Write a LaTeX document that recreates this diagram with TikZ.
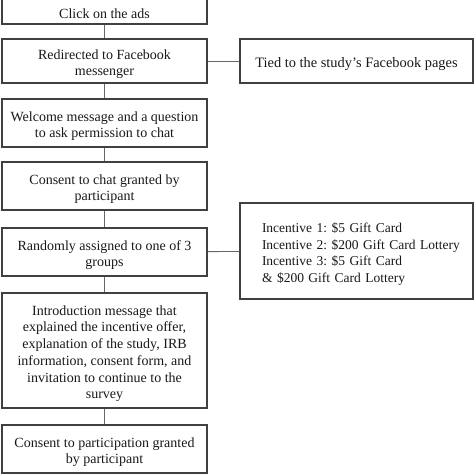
\documentclass[tikz,border=0pt]{standalone}
\usepackage{fontspec}
\setmainfont{Liberation Serif}
\newcommand\topstrut{\rule{0pt}{16pt}}
\begin{document}
\frenchspacing
\begin{tikzpicture}[x=1pt,y=-1pt,
  box/.style={draw=black!75, line width=1.4pt, fill=white, inner sep=0pt,
    font=\fontsize{14}{16.7}\selectfont, text=black!90},
  lbox/.style={box, minimum width=205pt, align=center},
  rbox/.style={box, minimum width=233pt},
  link/.style={draw=black!60, line width=0.9pt}]
\useasboundingbox (0,0) rectangle (474,474);
\clip (0,0) rectangle (474,474);
\node[lbox, minimum height=27pt] (b1) at (104.5,10.5) {\topstrut Click on the ads};
\node[lbox, minimum height=44pt] (b2) at (104.5,61) {\topstrut Redirected to Facebook\\messenger};
\node[lbox, minimum height=48pt] (b3) at (104.5,123) {\topstrut Welcome message and a question\\to ask permission to chat};
\node[lbox, minimum height=48pt] (b4) at (104.5,186) {\topstrut Consent to chat granted by\\participant};
\node[lbox, minimum height=48pt] (b5) at (104.5,252) {\topstrut Randomly assigned to one of 3\\groups};
\node[lbox, minimum height=115pt] (b6) at (104.5,350.5) {\topstrut Introduction message that\\explained the incentive offer,\\explanation of the study, IRB\\information, consent form, and\\invitation to continue to the\\survey};
\node[lbox, minimum height=48pt] (b7) at (104.5,449) {\topstrut Consent to participation granted\\by participant};
\node[rbox, minimum height=44pt, align=center, font=\fontsize{14.4}{16.7}\selectfont] (r1) at (356.5,61) {\topstrut Tied to the study's Facebook pages};
\node[rbox, minimum height=96pt, align=left, text width=225pt, font=\fontsize{13.5}{16.7}\selectfont] (r2) at (356.5,251) {\topstrut\hspace*{18pt}Incentive 1: \$5 Gift Card\\\hspace*{18pt}Incentive 2: \$200 Gift Card Lottery\\\hspace*{18pt}Incentive 3: \$5 Gift Card\\\hspace*{18pt}\& \$200 Gift Card Lottery};
\draw[link] (b1) -- (b2);
\draw[link] (b2) -- (b3);
\draw[link] (b3) -- (b4);
\draw[link] (b4) -- (b5);
\draw[link] (b5) -- (b6);
\draw[link] (b6) -- (b7);
\draw[link] (b2) -- (r1);
\draw[link] (b5) -- (r2);
\end{tikzpicture}
\end{document}
